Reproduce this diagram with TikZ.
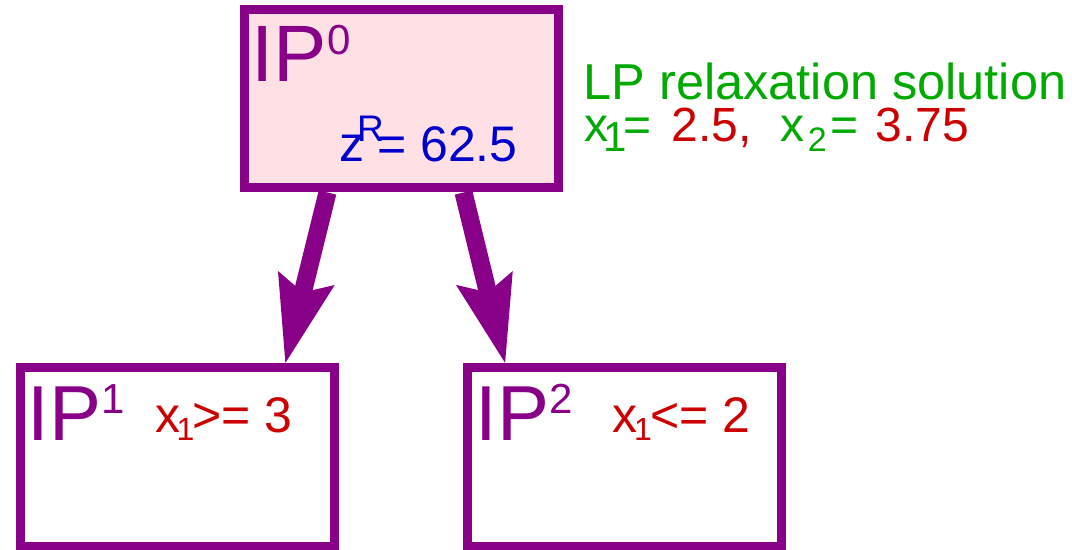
\documentclass[tikz,border=0pt]{standalone}
\usepackage{fontspec}
\setmainfont{Liberation Sans}
\usetikzlibrary{arrows.meta, positioning}
\definecolor{ippurple}{HTML}{880088}
\definecolor{ippink}{HTML}{FFE0E4}
\definecolor{zblue}{HTML}{0000CC}
\definecolor{lpgreen}{HTML}{00AA00}
\definecolor{valred}{HTML}{CC0000}
\newcommand{\setfs}[1]{\fontsize{#1bp}{#1bp}\selectfont}

\begin{document}
\begin{tikzpicture}[x=1bp, y=-1bp,
      ipbox/.style={draw=ippurple, line width=9bp, minimum width=314bp,
                    minimum height=178bp, inner sep=0pt},
      branch/.style={draw=ippurple, line width=18bp,
                     -{Stealth[length=86bp, width=54bp, inset=12bp]}},
      iplbl/.style={anchor=base west, inner sep=0pt, text=ippurple},
      cut/.style={anchor=base west, inner sep=0pt, text=valred}
    ]
    \useasboundingbox (0,0) rectangle (1072,550);

    % Knoten
    \node[ipbox, fill=ippink] (ip0) at (401,99)  {};
    \node[ipbox]              (ip1) at (177.5,457) {};
    \node[ipbox]              (ip2) at (624,457) {};

    % Beschriftungen
    \node[iplbl] (ip0lbl) at (251.5,82) {\setfs{80}IP\raisebox{27bp}{\setfs{42}0}};
    \node[anchor=base west, inner sep=0pt, text=zblue] (zr) at (339,162)
      {\setfs{50}z\kern-7bp\raisebox{20bp}{\setfs{37}R}\kern-6.7bp= 62.5};
    \node[iplbl] (ip1lbl) at (27.7,440) {\setfs{78}IP\raisebox{27bp}{\setfs{42}1}};
    \node[iplbl] (ip2lbl) at (475.7,440) {\setfs{78}IP\raisebox{27bp}{\setfs{42}2}};
    \node[cut] (cut1) at (155.5,432)
      {\setfs{50}x\kern-4bp\raisebox{-8bp}{\setfs{32}1}\kern-2bp>= 3};
    \node[cut] (cut2) at (612,432)
      {\setfs{50}x\kern-3bp\raisebox{-8bp}{\setfs{32}1}\kern-2bp<= 2};

    % LP-Loesung
    \node[anchor=base west, inner sep=0pt, text=lpgreen] (lp) at (583.3,100)
      {\setfs{50.5}LP relaxation solution};
    \node[anchor=base west, inner sep=0pt, text=lpgreen] (sol) at (584.5,142)
      {\setfs{48}x\kern-5.5bp\raisebox{-10bp}{\setfs{42}1}\kern-3bp=\hspace{19.8bp}\textcolor{valred}{2.5,}\hspace{29bp}x\kern3.5bp\raisebox{-10bp}{\setfs{34}2}\kern4bp=\hspace{17bp}\textcolor{valred}{3.75}};

    % Verzweigung
    \draw[branch] ([xshift=88bp]ip0.south west)  -- ([xshift=269bp,yshift=-1bp]ip1.north west);
    \draw[branch] ([xshift=224bp]ip0.south west) -- ([xshift=43bp,yshift=-1bp]ip2.north west);
  \end{tikzpicture}
\end{document}
